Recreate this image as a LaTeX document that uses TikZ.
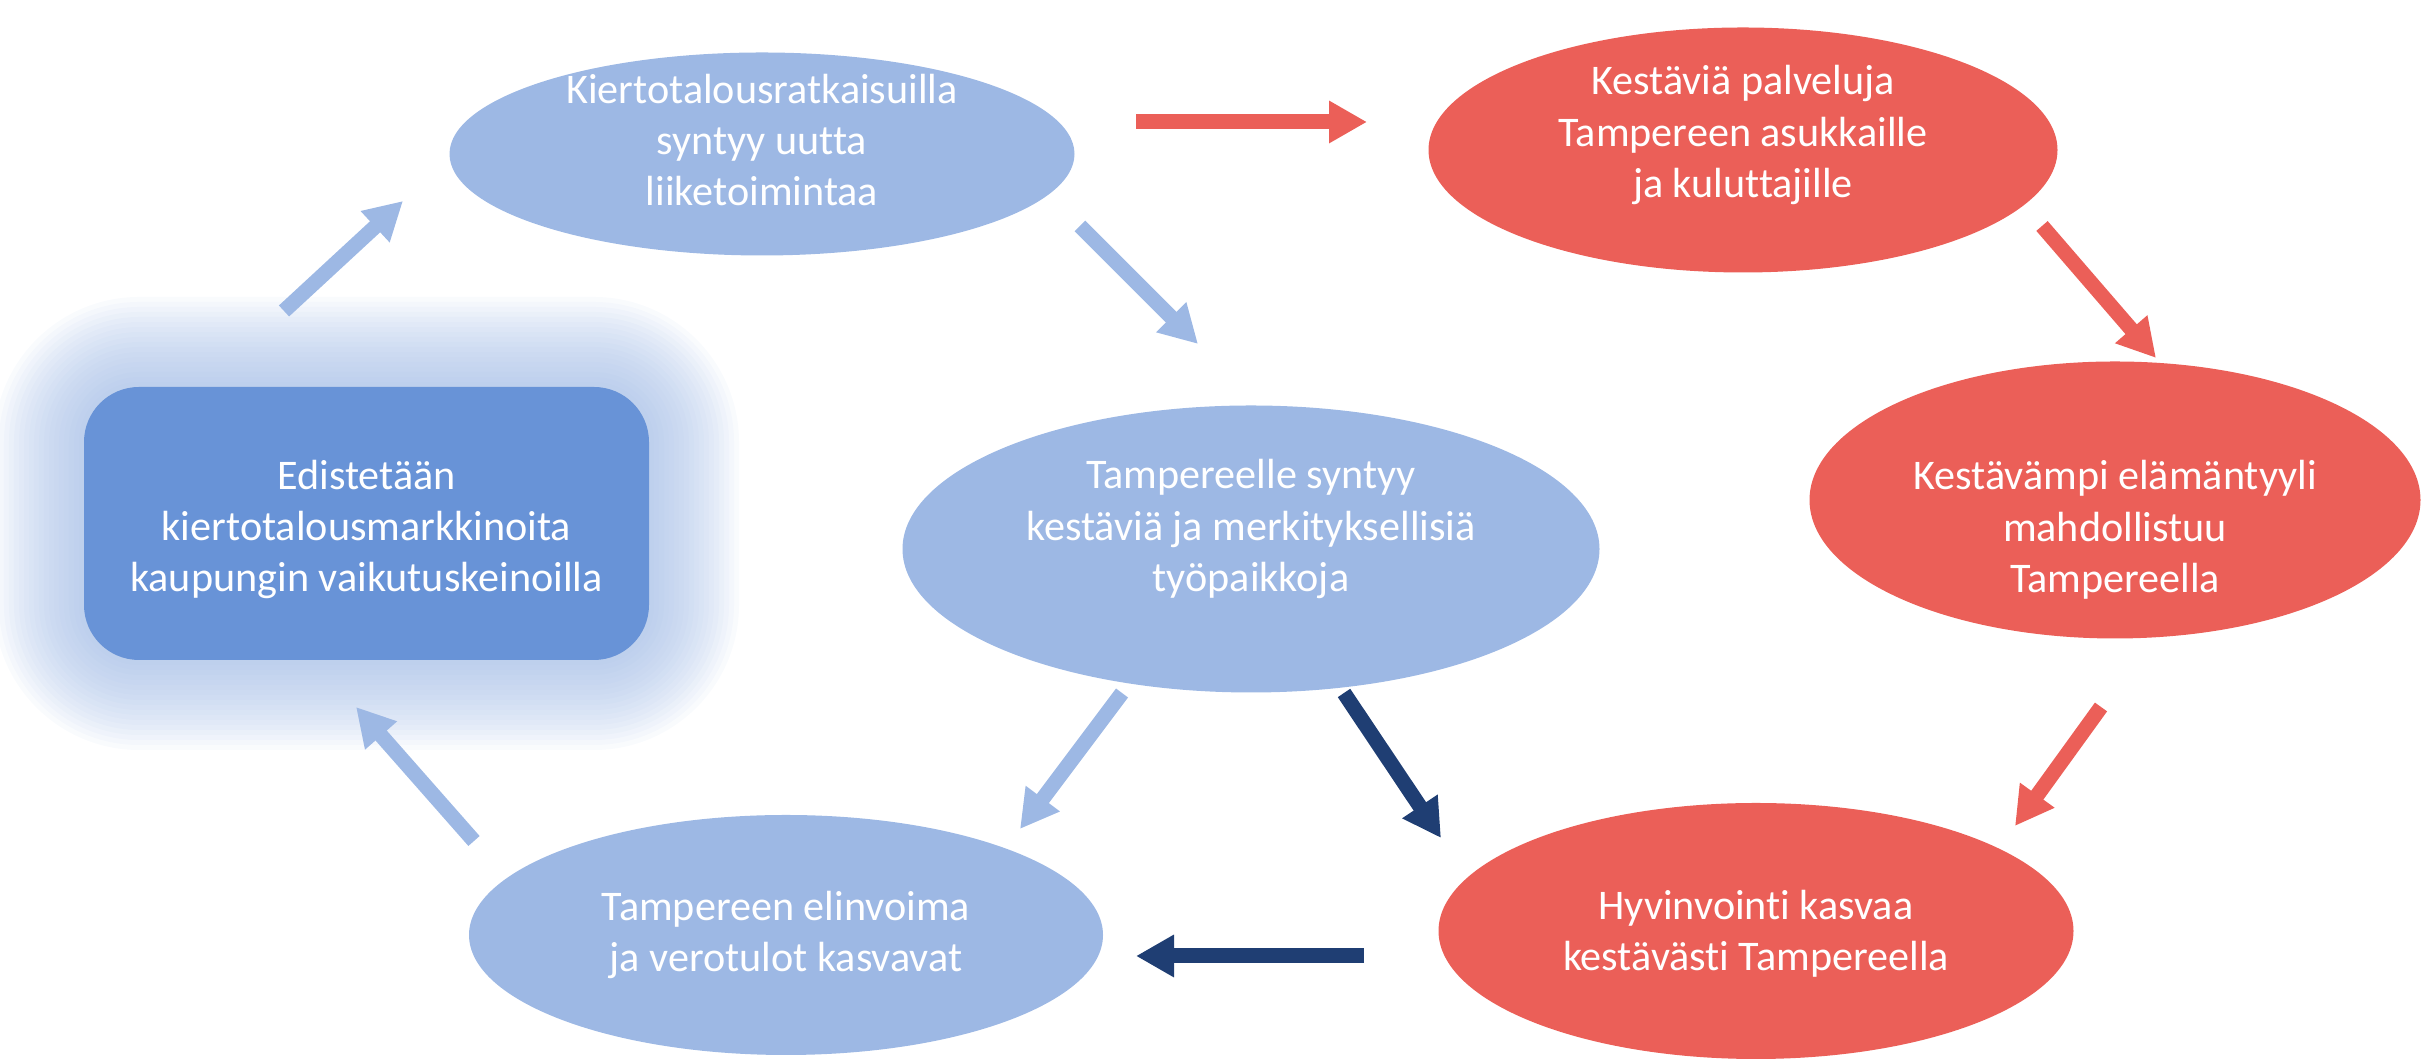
\documentclass[tikz,border=0pt]{standalone}
\usepackage{fontspec}
\setmainfont{Carlito}[RawFeature={-liga;-clig;-dlig;-calt}]
\usepackage{tikz}
\usetikzlibrary{arrows.meta,shapes.geometric}
\definecolor{kblue}{RGB}{157,184,228}
\definecolor{kbox}{RGB}{104,147,215}
\definecolor{kred}{RGB}{235,95,88}
\definecolor{knavy}{RGB}{31,62,115}

\begin{document}
\begin{tikzpicture}[
  bubble/.style={ellipse, inner sep=0pt},
  bluebubble/.style={bubble, fill=kblue},
  redbubble/.style={bubble, fill=kred},
  bubbletext/.style={align=center, text=white, inner sep=0pt,
    font=\fontsize{12}{14.6}\selectfont},
  blockarrow/.style={line width=1.5mm, -{Triangle[width=4mm,length=3.8mm]}},
]
\useasboundingbox (0,0) rectangle (24.3,10.6);
% Glow round the box
\foreach \g in {1,...,18} {
  \pgfmathsetmacro\d{\g*0.05}
  \fill[kblue, opacity=0.06, rounded corners={0.55cm+\d cm}]
    ({0.84-\d},{4.00-\d}) rectangle ({6.49+\d},{6.73+\d});
}
% Box
\node[fill=kbox, rounded corners=0.55cm, minimum width=5.65cm, minimum height=2.73cm]
  (box) at (3.665,5.365) {};
\node[bubbletext] (box-t) at ([yshift=-0.6mm]box.center)
  {Edistetään\\kiertotalousmarkkinoita\\kaupungin vaikutuskeinoilla};
% Blue ellipses
\node[bluebubble, minimum width=6.25cm, minimum height=2.03cm] (liike) at (7.62,9.06) {};
\node[bubbletext] (liike-t) at ([yshift=1.4mm]liike.center)
  {Kiertotalousratkaisuilla\\syntyy uutta\\liiketoimintaa};
\node[bluebubble, minimum width=6.97cm, minimum height=2.87cm] (tyo) at (12.51,5.11) {};
\node[bubbletext] (tyo-t) at ([yshift=2mm]tyo.center)
  {Tampereelle syntyy\\kestäviä ja merkityksellisiä\\työpaikkoja};
\node[bluebubble, minimum width=6.34cm, minimum height=2.40cm] (elinvoima) at (7.86,1.25) {};
\node[bubbletext] (elinvoima-t) at (elinvoima.center)
  {Tampereen elinvoima\\ja verotulot kasvavat};
% Red ellipses
\node[redbubble, minimum width=6.29cm, minimum height=2.45cm] (palvelu) at (17.43,9.10) {};
\node[bubbletext] (palvelu-t) at ([yshift=1.5mm]palvelu.center)
  {Kestäviä palveluja\\Tampereen asukkaille\\ja kuluttajille};
\node[redbubble, minimum width=6.11cm, minimum height=2.77cm] (elama) at (21.15,5.60) {};
\node[bubbletext] (elama-t) at ([yshift=-3mm]elama.center)
  {Kestävämpi elämäntyyli\\mahdollistuu\\Tampereella};
\node[redbubble, minimum width=6.35cm, minimum height=2.56cm] (hyvin) at (17.56,1.29) {};
\node[bubbletext] (hyvin-t) at ([yshift=-0.3mm]hyvin.center)
  {Hyvinvointi kasvaa\\kestävästi Tampereella};
% Arrow ends
\coordinate (a1s) at (2.84,7.49);  \coordinate (a1e) at (4.03,8.59);
\coordinate (a2s) at (11.36,9.38); \coordinate (a2e) at (13.67,9.38);
\coordinate (a3s) at (10.80,8.34); \coordinate (a3e) at (11.98,7.16);
\coordinate (a4s) at (20.42,8.34); \coordinate (a4e) at (21.56,7.02);
\coordinate (a5s) at (21.01,3.53); \coordinate (a5e) at (20.15,2.34);
\coordinate (a6s) at (13.44,3.67); \coordinate (a6e) at (14.41,2.22);
\coordinate (a7s) at (11.22,3.67); \coordinate (a7e) at (10.20,2.31);
\coordinate (a8s) at (13.64,1.04); \coordinate (a8e) at (11.36,1.04);
\coordinate (a9s) at (4.74,2.19);  \coordinate (a9e) at (3.56,3.53);
% Arrows
\draw[blockarrow, kblue] (a1s) -- (a1e);
\draw[blockarrow, kred] (a2s) -- (a2e);
\draw[blockarrow, kblue] (a3s) -- (a3e);
\draw[blockarrow, kred] (a4s) -- (a4e);
\draw[blockarrow, kred] (a5s) -- (a5e);
\draw[blockarrow, knavy] (a6s) -- (a6e);
\draw[blockarrow, kblue] (a7s) -- (a7e);
\draw[blockarrow, knavy] (a8s) -- (a8e);
\draw[blockarrow, kblue] (a9s) -- (a9e);
\end{tikzpicture}
\end{document}
